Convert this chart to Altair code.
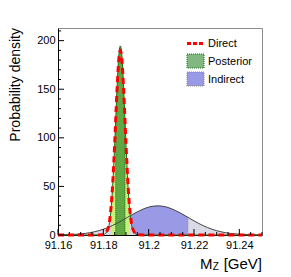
import altair as alt
import pandas as pd

# ---- data ----
direct_x = [91.16, 91.175, 91.180, 91.182, 91.183, 91.184, 91.185, 91.186, 91.187, 91.1875,
            91.188, 91.189, 91.190, 91.191, 91.192, 91.193, 91.195, 91.200, 91.25]
direct_y = [0, 0, 0.3, 6.2, 19.1, 47.4, 93.5, 147.2, 184.7, 190,
            184.7, 147.2, 93.5, 47.4, 19.1, 6.2, 0.3, 0, 0]

post_x = [91.16, 91.175, 91.180, 91.182, 91.183, 91.1834, 91.184, 91.185, 91.18545, 91.186,
          91.187, 91.1875, 91.188, 91.189, 91.18955, 91.190, 91.191, 91.1916, 91.192, 91.193,
          91.195, 91.200, 91.25]
post_y = [0, 0, 0.24, 5.3, 17.5, 26.3, 45.3, 92.5, 118.0, 148.9,
          188.9, 194.6, 188.9, 148.9, 118.0, 92.5, 45.3, 26.3, 17.5, 5.3,
          0.24, 0, 0]

ind_x = [91.16, 91.164, 91.168, 91.172, 91.176, 91.180, 91.184, 91.188, 91.1907, 91.192,
         91.196, 91.200, 91.204, 91.208, 91.212, 91.216, 91.2173, 91.220, 91.224, 91.228,
         91.232, 91.236, 91.240, 91.244, 91.248, 91.25]
ind_y = [0.13, 0.33, 0.77, 1.66, 3.27, 5.89, 9.68, 14.55, 18.2, 19.97,
         25.0, 28.7, 30.0, 28.7, 25.0, 19.97, 18.2, 14.55, 9.68, 5.89,
         3.27, 1.66, 0.77, 0.33, 0.13, 0.1]

post_1s = [91.18545, 91.18955]
post_1s_h = [118.0, 118.0]
post_2s = [91.1834, 91.1916]
ind_1s = [91.1907, 91.2173]
ind_1s_h = [18.2, 18.2]

x_labels = [91.16, 91.18, 91.20, 91.22, 91.24]
x_minor = [91.165, 91.17, 91.175, 91.185, 91.19, 91.195, 91.205, 91.21, 91.215,
           91.225, 91.23, 91.235, 91.245, 91.25]
y_labels = [0, 50, 100, 150, 200]
y_minor = [10, 20, 30, 40, 60, 70, 80, 90, 110, 120, 130, 140, 160, 170, 180, 190, 210]

legend_labels = ["Direct", "Posterior", "Indirect"]

# ---- frames ----
direct = pd.DataFrame({"x": direct_x, "y": direct_y})
post = pd.DataFrame({"x": post_x, "y": post_y})
ind = pd.DataFrame({"x": ind_x, "y": ind_y})

def between(df, lo, hi):
    return df[(df.x >= lo) & (df.x <= hi)]

W, H = 204, 207
FONT = "Liberation Sans"
xs = alt.Scale(domain=[91.16, 91.25], nice=False, zero=False)
ys = alt.Scale(domain=[0, 213], nice=False)

X = alt.X("x:Q", scale=xs, title=None,
          axis=alt.Axis(values=x_labels, ticks=False, grid=False, domainColor="black",
                        labelExpr="format(datum.value, '.2~f')", labelFont=FONT,
                        labelFontSize=11, labelColor="black", labelPadding=4,
                        labelFlush=False))
Y = alt.Y("y:Q", scale=ys, title=None,
          axis=alt.Axis(values=y_labels, ticks=False, grid=False, domainColor="black",
                        format="d", labelFont=FONT, labelFontSize=11, labelColor="black",
                        labelPadding=3))

def area(df, color):
    return alt.Chart(df).mark_area(color=color, interpolate="monotone", opacity=1).encode(
        x=X, y=Y)

def line(df, color, width=1, dash=None):
    kw = dict(color=color, strokeWidth=width, interpolate="monotone")
    if dash:
        kw["strokeDash"] = dash
    return alt.Chart(df).mark_line(**kw).encode(x=X, y=Y)

ind_grey = area(ind, "#dadae6")
ind_blue = area(between(ind, ind_1s[0], ind_1s[1]), "#9999e6")
ind_rules = alt.Chart(pd.DataFrame({"x": ind_1s, "y": ind_1s_h})).mark_rule(
    color="#888888", strokeDash=[1, 1]).encode(x=X, y=Y, y2=alt.value(H))

post_grey = area(post, "#dadae6")
post_light = area(between(post, post_2s[0], post_2s[1]), "#c8f07c")
post_dark = area(between(post, post_1s[0], post_1s[1]), "#60a844")
post_rules = alt.Chart(pd.DataFrame({"x": post_1s, "y": post_1s_h})).mark_rule(
    color="#1e6b1e", strokeDash=[1, 1]).encode(x=X, y=Y, y2=alt.value(H))

ind_line = line(ind, "#444444", 1)
post_line = line(post, "#1e6b1e", 1)
direct_line = line(direct, "#ff0000", 3, [6, 4])

# inward ticks
xt_major = alt.Chart(pd.DataFrame({"x": x_labels})).mark_rule(color="black").encode(
    x=X, y=alt.value(H), y2=alt.value(H - 6))
xt_minor = alt.Chart(pd.DataFrame({"x": x_minor})).mark_rule(color="black").encode(
    x=X, y=alt.value(H), y2=alt.value(H - 3))
yt_major = alt.Chart(pd.DataFrame({"y": y_labels})).mark_rule(color="black").encode(
    y=Y, x=alt.value(0), x2=alt.value(6))
yt_minor = alt.Chart(pd.DataFrame({"y": y_minor})).mark_rule(color="black").encode(
    y=Y, x=alt.value(0), x2=alt.value(3))

# legend
leg = pd.DataFrame({"label": legend_labels})
leg_direct = alt.Chart(leg[leg.label == "Direct"]).mark_rule(
    color="#ff0000", strokeWidth=3, strokeDash=[4, 2]).encode(
    x=alt.value(129), x2=alt.value(146), y=alt.value(15.5))
leg_post = alt.Chart(leg[leg.label == "Posterior"]).mark_rect(
    fill="#80b880", stroke="#1e6b1e", strokeDash=[1, 1], strokeWidth=1).encode(
    x=alt.value(129), x2=alt.value(146), y=alt.value(26), y2=alt.value(40))
leg_ind = alt.Chart(leg[leg.label == "Indirect"]).mark_rect(
    fill="#9999e6", stroke="#888888", strokeDash=[1, 1], strokeWidth=1).encode(
    x=alt.value(129), x2=alt.value(146), y=alt.value(44), y2=alt.value(58))

def text_layer(txt, x, y, size=11, align="left", angle=None):
    kw = dict(align=align, baseline="middle", font=FONT, fontSize=size, color="black")
    if angle is not None:
        kw["angle"] = angle
    return alt.Chart(pd.DataFrame({"t": [txt]})).mark_text(**kw).encode(
        x=alt.value(x), y=alt.value(y), text="t:N")

leg_t1 = text_layer(legend_labels[0], 150, 15.5)
leg_t2 = text_layer(legend_labels[1], 150, 33.5)
leg_t3 = text_layer(legend_labels[2], 150, 51.5)

# titles
y_title = text_layer("Probability density", -42, 0, size=14, align="right", angle=270)
xm = text_layer("M", 142, 236, size=15)
xz = text_layer("Z", 154.8, 238.5, size=10)
xg = text_layer("[GeV]", 204, 236, size=15, align="right")

chart = alt.layer(
    ind_grey, ind_blue, ind_rules, post_grey, post_light, post_dark, post_rules,
    ind_line, post_line, direct_line,
    xt_major, xt_minor, yt_major, yt_minor,
    leg_direct, leg_post, leg_ind, leg_t1, leg_t2, leg_t3,
    y_title, xm, xz, xg,
).properties(
    width=W, height=H,
    autosize=alt.AutoSizeParams(type="none"),
    padding={"left": 50, "top": 20, "right": 20, "bottom": 40},
).configure_view(stroke="#8c8c8c", strokeWidth=1)

chart.save("out.html", embed_options={"renderer": "svg", "actions": False})
